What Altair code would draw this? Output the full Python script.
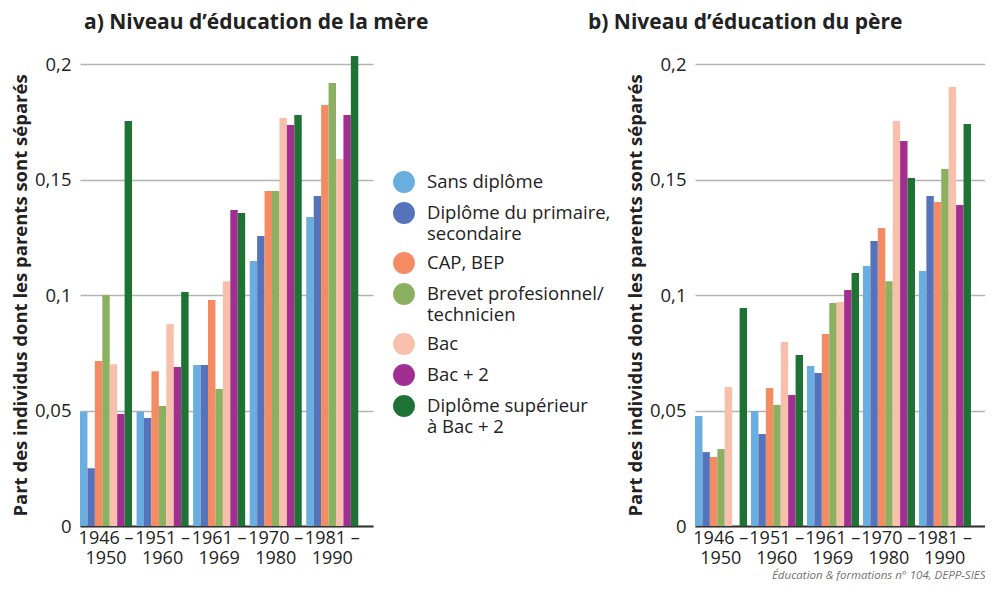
import altair as alt
import pandas as pd

cohorts = ["1946 – 1950", "1951 – 1960", "1961 – 1969", "1970 – 1980", "1981 – 1990"]
levels = [
    "Sans diplôme",
    "Diplôme du primaire,\nsecondaire",
    "CAP, BEP",
    "Brevet profesionnel/\ntechnicien",
    "Bac",
    "Bac + 2",
    "Diplôme supérieur\nà Bac + 2",
]
colors = ["#6aaddf", "#5473bb", "#f48b62", "#8bb05f", "#f9bfad", "#a12f92", "#1e7334"]

# a) Niveau d'éducation de la mère (values per cohort)
mere_sans = [0.0495, 0.0495, 0.0697, 0.1147, 0.1338]
mere_primaire = [0.025, 0.0467, 0.0697, 0.1255, 0.1429]
mere_cap = [0.0714, 0.067, 0.0978, 0.145, 0.1822]
mere_brevet = [0.1, 0.052, 0.0593, 0.145, 0.1918]
mere_bac = [0.070, 0.0874, 0.106, 0.1766, 0.1589]
mere_bac2 = [0.0485, 0.0688, 0.1368, 0.1736, 0.1779]
mere_sup = [0.1753, 0.1013, 0.1355, 0.1779, 0.2035]

# b) Niveau d'éducation du père
pere_sans = [0.0476, 0.0498, 0.0693, 0.1126, 0.1104]
pere_primaire = [0.032, 0.0398, 0.0662, 0.1234, 0.1429]
pere_cap = [0.0299, 0.0597, 0.0831, 0.129, 0.1403]
pere_brevet = [0.0333, 0.0524, 0.0965, 0.106, 0.1545]
pere_bac = [0.0602, 0.0797, 0.097, 0.1753, 0.19]
pere_bac2 = [None, 0.0567, 0.1022, 0.1667, 0.139]
pere_sup = [0.0944, 0.074, 0.1095, 0.1506, 0.174]

y_ticks = [0, 0.05, 0.1, 0.15, 0.2]

FONT = "Open Sans"


def make_df(series):
    rows = []
    for lvl, vals in zip(levels, series):
        for c, v in zip(cohorts, vals):
            if v is not None:
                rows.append({"cohorte": c, "niveau": lvl, "part": v})
    return pd.DataFrame(rows)


df_mere = make_df([mere_sans, mere_primaire, mere_cap, mere_brevet, mere_bac, mere_bac2, mere_sup])
df_pere = make_df([pere_sans, pere_primaire, pere_cap, pere_brevet, pere_bac, pere_bac2, pere_sup])


def panel(df, title, dx, legend, xtitle, width):
    x_axis = alt.Axis(
        labelAngle=0,
        labelExpr="[slice(datum.label, 0, 6), slice(datum.label, 7)]",
        labelFontSize=18,
        labelLineHeight=20,
        labelPadding=3,
        labelColor="#222",
        ticks=False,
        domainColor="#333",
        domainWidth=2,
        title=xtitle,
        titleFontSize=11.5,
        titleFontStyle="italic",
        titleFontWeight="normal",
        titleColor="#707070",
        titleAnchor="end",
        titlePadding=2,
    )
    y_axis = alt.Axis(
        values=y_ticks,
        labelExpr="replace(toString(datum.value), '.', ',')",
        labelFontSize=18.5,
        labelColor="#222",
        labelPadding=9,
        grid=True,
        gridColor="#b3b3b3",
        gridWidth=1.5,
        domain=False,
        ticks=False,
        title="Part des individus dont les parents sont séparés",
        titleFontSize=18.5,
        titleFontWeight="bold",
        titleColor="#222",
        titlePadding=4,
    )
    return (
        alt.Chart(df)
        .mark_bar()
        .encode(
            x=alt.X(
                "cohorte:N",
                sort=cohorts,
                scale=alt.Scale(domain=cohorts, paddingInner=0.08, paddingOuter=0.13, align=0),
                axis=x_axis,
            ),
            xOffset=alt.XOffset(
                "niveau:N", scale=alt.Scale(domain=levels, paddingInner=0, paddingOuter=0)
            ),
            y=alt.Y("part:Q", scale=alt.Scale(domain=[0, 0.2], nice=False), axis=y_axis),
            color=alt.Color("niveau:N", scale=alt.Scale(domain=levels, range=colors), legend=legend),
        )
        .properties(
            width=width,
            height=462,
            title=alt.TitleParams(
                text=title,
                anchor="start",
                frame="group",
                dx=dx,
                fontSize=21,
                fontWeight="bold",
                color="#222",
                offset=22,
            ),
        )
    )


legend = alt.Legend(
    orient="none",
    legendX=-302,
    legendY=107,
    title=None,
    symbolType="circle",
    symbolSize=480,
    symbolStrokeWidth=0,
    labelFontSize=18.5,
    labelColor="#222",
    labelExpr="split(datum.label, '\\n')",
    labelLimit=300,
    labelOffset=12,
    rowPadding=9,
    direction="vertical",
)

left = panel(df_mere, "a) Niveau d’éducation de la mère", 4, None, None, 293)
right = panel(
    df_pere,
    "b) Niveau d’éducation du père",
    -107,
    legend,
    "Éducation & formations n° 104, DEPP-SIES",
    290,
)

chart = (
    alt.hconcat(left, right, spacing=322, bounds="flush")
    .resolve_legend(color="independent")
    .properties(padding={"left": 3, "top": 4, "right": 0, "bottom": 0})
    .configure(font=FONT)
    .configure_view(stroke=None)
)

chart.save("out.html", embed_options={"renderer": "svg", "actions": False})
